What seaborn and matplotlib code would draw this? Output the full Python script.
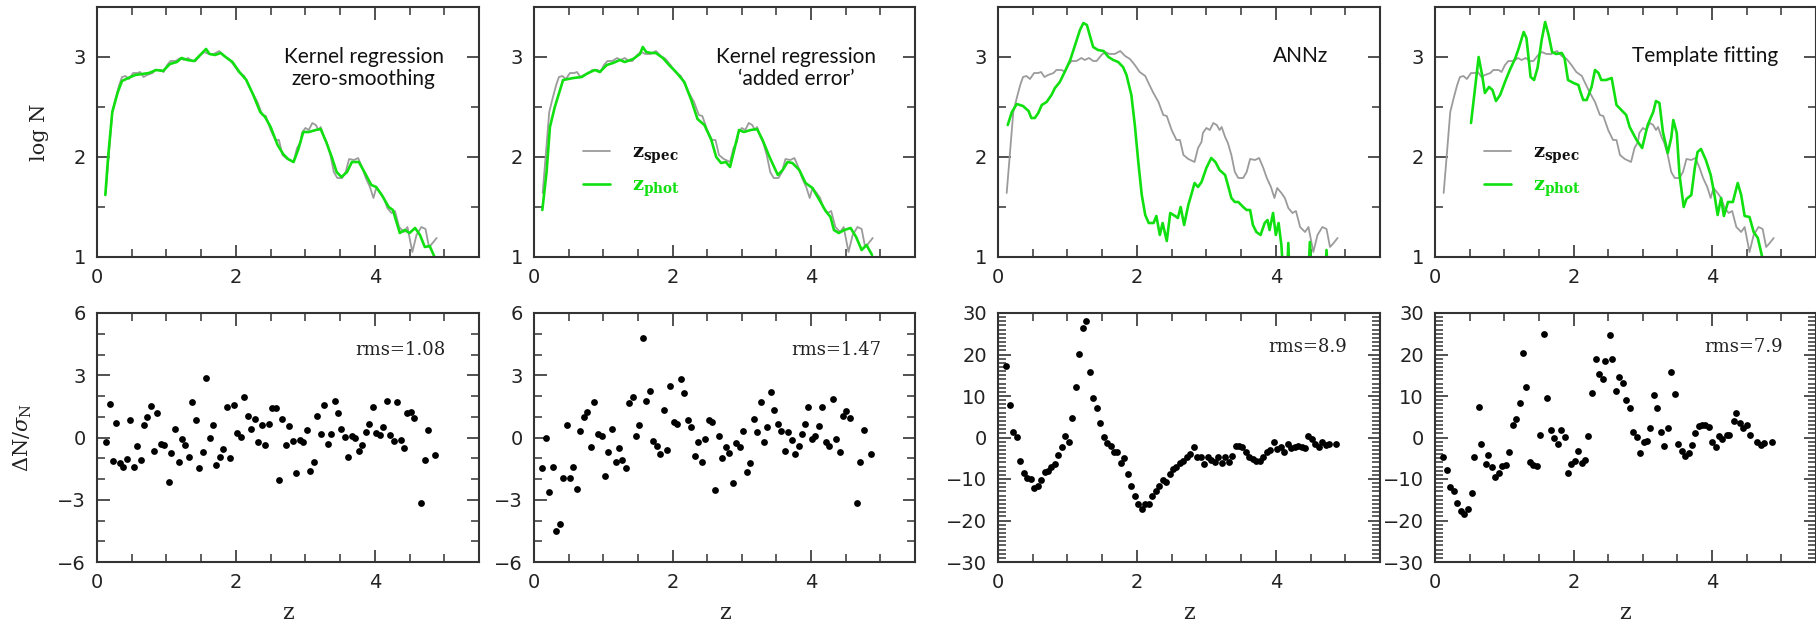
import matplotlib
matplotlib.use('Agg')
import matplotlib.pyplot as plt
from matplotlib.ticker import MultipleLocator
import numpy as np
import pandas as pd
import seaborn as sns

sns.set_style('ticks')
plt.rcParams['font.family'] = ['DejaVu Sans']
plt.rcParams['mathtext.fontset'] = 'dejavuserif'

# ---------------- top row: log N vs z ----------------
# spectroscopic distribution (same grey curve in every top panel)
z_spec = [0.125, 0.17, 0.22, 0.27, 0.32, 0.36, 0.41, 0.46, 0.52, 0.58, 0.62, 0.67, 0.72, 0.80, 0.84,
          0.92, 0.96, 1.01, 1.06, 1.13, 1.20, 1.25, 1.31, 1.37, 1.42, 1.49, 1.54, 1.61, 1.68, 1.76,
          1.83, 1.90, 1.97, 2.04, 2.12, 2.16, 2.23, 2.31, 2.38, 2.43, 2.50, 2.57, 2.62, 2.67, 2.74,
          2.83, 2.88, 2.93, 2.95, 3.00, 3.05, 3.10, 3.15, 3.19, 3.22, 3.27, 3.31, 3.36, 3.41, 3.46,
          3.53, 3.58, 3.63, 3.70, 3.76, 3.82, 3.87, 3.93, 3.98, 4.02, 4.08, 4.13, 4.18, 4.24, 4.29,
          4.35, 4.42, 4.47, 4.54, 4.60, 4.67, 4.73, 4.78, 4.82, 4.89]
logn_spec = [1.64, 2.02, 2.45, 2.59, 2.72, 2.80, 2.81, 2.78, 2.84, 2.84, 2.85, 2.80, 2.82, 2.84, 2.87,
             2.87, 2.85, 2.92, 2.96, 2.96, 2.99, 2.97, 2.99, 2.96, 2.96, 3.02, 3.05, 3.03, 3.03, 3.06,
             3.01, 2.98, 2.92, 2.85, 2.81, 2.75, 2.65, 2.55, 2.42, 2.41, 2.27, 2.17, 2.17, 2.02, 1.98,
             1.95, 2.09, 2.15, 2.24, 2.29, 2.27, 2.34, 2.32, 2.27, 2.30, 2.20, 2.14, 2.02, 1.85, 1.79,
             1.79, 1.85, 1.98, 1.97, 1.99, 1.89, 1.79, 1.70, 1.59, 1.69, 1.64, 1.59, 1.49, 1.44, 1.46,
             1.30, 1.25, 1.30, 1.05, 1.22, 1.30, 1.28, 1.10, 1.13, 1.19]

# photometric distributions
z_phot_kr0 = [0.12, 0.16, 0.22, 0.30, 0.36, 0.45, 0.55, 0.65, 0.75, 0.85, 0.95, 1.05, 1.15, 1.22, 1.30,
              1.40, 1.50, 1.57, 1.62, 1.70, 1.78, 1.87, 1.95, 2.05, 2.15, 2.25, 2.35, 2.42, 2.50, 2.60,
              2.68, 2.75, 2.83, 2.90, 2.97, 3.05, 3.15, 3.22, 3.30, 3.38, 3.45, 3.52, 3.60, 3.67, 3.77,
              3.85, 3.95, 4.02, 4.10, 4.20, 4.26, 4.36, 4.43, 4.50, 4.58, 4.65, 4.72, 4.79, 4.86]
logn_phot_kr0 = [1.62, 2.00, 2.45, 2.65, 2.76, 2.79, 2.82, 2.83, 2.84, 2.87, 2.86, 2.93, 2.95, 2.99, 2.97,
                 2.96, 3.03, 3.08, 3.03, 3.02, 3.04, 2.99, 2.95, 2.85, 2.77, 2.62, 2.45, 2.40, 2.30, 2.12,
                 2.03, 1.98, 1.95, 2.08, 2.25, 2.25, 2.27, 2.28, 2.15, 2.00, 1.85, 1.80, 1.85, 1.95, 1.95,
                 1.85, 1.72, 1.70, 1.62, 1.50, 1.47, 1.24, 1.27, 1.24, 1.29, 1.22, 1.10, 1.11, 1.00]

z_phot_kre = [0.12, 0.18, 0.23, 0.30, 0.42, 0.57, 0.69, 0.78, 0.88, 0.95, 1.05, 1.14, 1.24, 1.31, 1.43,
              1.53, 1.57, 1.62, 1.69, 1.76, 1.86, 1.95, 2.05, 2.17, 2.27, 2.36, 2.46, 2.56, 2.63, 2.70,
              2.77, 2.83, 2.89, 2.96, 3.03, 3.13, 3.22, 3.30, 3.40, 3.52, 3.59, 3.66, 3.73, 3.83, 3.92,
              4.02, 4.12, 4.21, 4.28, 4.33, 4.40, 4.48, 4.57, 4.65, 4.73, 4.80, 4.88]
logn_phot_kre = [1.47, 1.84, 2.30, 2.50, 2.77, 2.79, 2.80, 2.84, 2.87, 2.85, 2.92, 2.94, 2.97, 2.95, 2.98,
                 3.03, 3.10, 3.05, 3.04, 3.04, 2.99, 2.92, 2.85, 2.75, 2.57, 2.38, 2.32, 2.17, 2.00, 1.94,
                 1.95, 1.90, 2.07, 2.27, 2.25, 2.27, 2.28, 2.17, 2.00, 1.82, 1.87, 1.95, 1.94, 1.87, 1.74,
                 1.69, 1.57, 1.46, 1.40, 1.27, 1.24, 1.27, 1.29, 1.20, 1.07, 1.12, 1.02]

z_phot_ann = [0.14, 0.20, 0.27, 0.36, 0.44, 0.48, 0.53, 0.58, 0.63, 0.70, 0.77, 0.82, 0.89, 0.96, 1.04,
              1.11, 1.18, 1.23, 1.28, 1.32, 1.37, 1.44, 1.52, 1.59, 1.66, 1.73, 1.80, 1.85, 1.92, 1.97,
              2.02, 2.07, 2.12, 2.17, 2.24, 2.28, 2.33, 2.37, 2.43, 2.48, 2.55, 2.59, 2.63, 2.68, 2.74,
              2.79, 2.83, 2.88, 2.93, 3.00, 3.07, 3.13, 3.19, 3.27, 3.31, 3.36, 3.41, 3.46, 3.53, 3.58,
              3.63, 3.67, 3.72, 3.78, 3.84, 3.88, 3.91, 3.96, 4.00, 4.04, 4.08, 4.11, 4.15, 4.18, 4.21,
              4.30, 4.40, 4.46, 4.49, 4.52, 4.60, 4.70, 4.73, 4.76]
logn_phot_ann = [2.32, 2.45, 2.53, 2.51, 2.46, 2.39, 2.39, 2.44, 2.52, 2.55, 2.62, 2.69, 2.75, 2.85, 2.97,
                 3.12, 3.27, 3.34, 3.32, 3.22, 3.10, 3.07, 3.06, 3.00, 2.97, 2.95, 2.90, 2.82, 2.62, 2.32,
                 1.95, 1.62, 1.42, 1.34, 1.34, 1.41, 1.22, 1.34, 1.16, 1.44, 1.41, 1.39, 1.50, 1.32, 1.52,
                 1.64, 1.74, 1.70, 1.75, 1.89, 1.99, 1.95, 1.87, 1.82, 1.72, 1.59, 1.55, 1.55, 1.50, 1.47,
                 1.47, 1.32, 1.25, 1.22, 1.34, 1.37, 1.27, 1.44, 1.22, 1.34, 1.12, 0.80, 0.60, 1.14, 0.60,
                 0.50, 0.50, 0.70, 1.15, 0.70, 0.50, 0.70, 1.07, 0.70]

z_phot_tf = [0.52, 0.63, 0.68, 0.72, 0.78, 0.83, 0.88, 0.94, 1.01, 1.08, 1.16, 1.21, 1.28, 1.32, 1.38,
             1.43, 1.48, 1.54, 1.59, 1.64, 1.69, 1.75, 1.83, 1.87, 1.92, 2.00, 2.07, 2.10, 2.14, 2.19,
             2.26, 2.31, 2.36, 2.40, 2.47, 2.55, 2.62, 2.69, 2.76, 2.81, 2.91, 2.99, 3.07, 3.15, 3.19,
             3.24, 3.29, 3.36, 3.41, 3.44, 3.49, 3.53, 3.59, 3.63, 3.70, 3.75, 3.79, 3.84, 3.91, 3.98,
             4.03, 4.08, 4.13, 4.17, 4.23, 4.30, 4.37, 4.42, 4.47, 4.54, 4.60, 4.66, 4.70, 4.74]
logn_phot_tf = [2.34, 3.00, 2.82, 2.64, 2.70, 2.67, 2.56, 2.62, 2.75, 2.87, 2.99, 3.09, 3.25, 3.19, 2.80,
                2.77, 2.89, 3.17, 3.35, 3.22, 3.05, 3.03, 3.04, 2.99, 2.77, 2.74, 2.72, 2.65, 2.57, 2.57,
                2.70, 2.87, 2.84, 2.77, 2.77, 2.79, 2.52, 2.47, 2.42, 2.30, 2.17, 2.09, 2.32, 2.45, 2.56,
                2.54, 2.25, 2.04, 2.19, 2.37, 2.24, 1.82, 1.50, 1.58, 1.62, 1.89, 2.05, 2.08, 1.97, 1.82,
                1.64, 1.42, 1.59, 1.41, 1.55, 1.55, 1.74, 1.62, 1.41, 1.40, 1.25, 1.19, 1.07, 0.95]

# ---------------- bottom row: dN / sigma_N vs z ----------------
z_res_kr0 = [0.13, 0.18, 0.23, 0.28, 0.33, 0.38, 0.43, 0.48, 0.53, 0.58, 0.63, 0.68, 0.72, 0.78, 0.82,
             0.87, 0.92, 0.97, 1.03, 1.07, 1.12, 1.18, 1.22, 1.27, 1.32, 1.37, 1.42, 1.47, 1.53, 1.57,
             1.62, 1.67, 1.72, 1.77, 1.82, 1.87, 1.92, 1.97, 2.02, 2.07, 2.12, 2.17, 2.22, 2.27, 2.32,
             2.37, 2.42, 2.47, 2.52, 2.58, 2.62, 2.67, 2.72, 2.77, 2.82, 2.87, 2.92, 2.97, 3.02, 3.07,
             3.12, 3.17, 3.22, 3.27, 3.32, 3.37, 3.42, 3.47, 3.52, 3.57, 3.62, 3.67, 3.72, 3.77, 3.82,
             3.87, 3.92, 3.97, 4.02, 4.07, 4.12, 4.17, 4.22, 4.27, 4.32, 4.37, 4.42, 4.47, 4.52, 4.57,
             4.67, 4.72, 4.77, 4.87]
res_kr0 = [-0.24, 1.61, -1.12, 0.69, -1.24, -1.40, -1.04, 0.85, -1.41, -0.40, -1.08, 0.59, 1.01, 1.52, -0.67,
           1.16, -0.30, -0.37, -2.13, -0.77, 0.43, -1.17, -0.08, -0.34, -0.93, 1.73, 0.83, -1.48, -0.72, 2.87,
           0.00, 0.59, -1.32, -0.93, -0.56, 1.49, -1.01, 1.59, 0.21, 0.03, 1.93, 1.04, 0.43, 0.91, -0.24,
           0.59, -0.35, 0.64, 1.44, 1.41, -2.05, 0.88, -0.35, 0.56, -0.18, -1.72, -0.11, -0.24, 0.35, -1.61,
           -1.20, 1.04, 0.19, 1.57, -0.32, 0.16, 1.77, 1.17, 0.43, 0.03, -0.93, 0.05, -0.03, -0.64, -0.37,
           0.27, 0.67, 1.49, 0.24, 0.11, 0.50, 1.77, 0.11, -0.16, 1.72, -0.13, -0.51, 1.16, 1.24, 0.95,
           -3.16, -1.08, 0.35, -0.82]

z_res_kre = [0.12, 0.17, 0.22, 0.27, 0.32, 0.37, 0.42, 0.47, 0.52, 0.57, 0.62, 0.67, 0.72, 0.77, 0.82,
             0.87, 0.92, 0.98, 1.02, 1.07, 1.12, 1.18, 1.22, 1.27, 1.33, 1.37, 1.43, 1.47, 1.52, 1.57,
             1.62, 1.67, 1.72, 1.77, 1.82, 1.87, 1.92, 1.97, 2.02, 2.07, 2.12, 2.17, 2.22, 2.27, 2.32,
             2.37, 2.42, 2.47, 2.52, 2.57, 2.62, 2.67, 2.72, 2.77, 2.82, 2.87, 2.92, 2.97, 3.01, 3.07,
             3.12, 3.17, 3.22, 3.27, 3.32, 3.37, 3.42, 3.47, 3.52, 3.56, 3.62, 3.67, 3.72, 3.77, 3.82,
             3.87, 3.91, 3.96, 4.01, 4.06, 4.11, 4.16, 4.21, 4.26, 4.32, 4.36, 4.42, 4.46, 4.51, 4.56,
             4.66, 4.71, 4.76, 4.86]
res_kre = [-1.49, -0.03, -2.62, -1.40, -4.49, -4.17, -1.94, 0.59, -1.97, -1.44, -2.46, 0.29, 1.01, 1.24, -0.47,
           1.72, 0.16, 0.08, -1.85, -0.72, 0.40, -1.20, -0.53, -1.09, -1.49, 1.65, 1.96, 0.05, 0.61, 4.78,
           1.77, 2.22, -0.19, -0.42, -0.80, 1.32, -0.59, 2.47, 0.75, 0.67, 2.84, 2.15, 0.85, 0.53, -0.91,
           -0.24, -1.20, -0.05, 0.85, 0.75, -2.52, 0.08, -1.00, -0.48, -0.77, -2.17, -0.27, -0.48, 0.32, -1.64,
           -1.25, 0.91, 0.27, 1.69, -0.21, 0.53, 2.20, 1.33, 0.64, 0.32, -0.64, 0.27, -0.11, -0.80, -0.43,
           0.16, 0.64, 1.48, -0.05, 0.05, 0.56, 1.49, -0.24, -0.40, 1.85, -0.08, -0.72, 1.04, 1.28, 0.96,
           -3.16, -1.20, 0.37, -0.80]

z_res_ann = [0.12, 0.17, 0.22, 0.27, 0.32, 0.37, 0.42, 0.47, 0.52, 0.57, 0.62, 0.67, 0.72, 0.77, 0.82,
             0.87, 0.92, 0.97, 1.02, 1.07, 1.12, 1.17, 1.22, 1.27, 1.32, 1.37, 1.42, 1.47, 1.52, 1.57,
             1.62, 1.67, 1.72, 1.77, 1.82, 1.87, 1.92, 1.97, 2.02, 2.07, 2.12, 2.17, 2.22, 2.27, 2.32,
             2.37, 2.42, 2.47, 2.52, 2.57, 2.62, 2.67, 2.72, 2.77, 2.82, 2.87, 2.92, 2.97, 3.02, 3.07,
             3.12, 3.17, 3.22, 3.27, 3.32, 3.37, 3.42, 3.47, 3.52, 3.57, 3.62, 3.67, 3.72, 3.77, 3.82,
             3.87, 3.92, 3.97, 4.02, 4.07, 4.12, 4.17, 4.22, 4.27, 4.32, 4.37, 4.42, 4.47, 4.52, 4.57,
             4.62, 4.67, 4.72, 4.77, 4.87]
res_ann = [17.3, 7.9, 1.4, 0.2, -5.6, -8.6, -9.8, -10.1, -12.2, -11.7, -10.2, -8.2, -8.0, -7.2, -6.4,
           -4.3, -2.2, 0.4, -1.0, 4.7, 12.1, 20.2, 26.4, 28.0, 15.7, 9.5, 7.1, 3.5, 0.1, -1.4,
           -2.0, -3.4, -3.5, -6.2, -5.0, -8.8, -11.6, -14.1, -16.0, -17.3, -16.0, -16.0, -14.1, -12.8, -11.7,
           -10.2, -10.8, -8.8, -7.6, -7.0, -6.2, -5.6, -4.8, -4.0, -2.3, -4.6, -4.7, -6.4, -4.6, -5.4,
           -5.8, -4.7, -6.2, -4.6, -6.0, -4.4, -2.0, -2.0, -2.3, -3.4, -4.6, -5.2, -5.6, -5.6, -4.6,
           -3.6, -3.1, -1.1, -2.8, -2.2, -3.6, -1.5, -2.6, -2.2, -2.0, -2.3, -2.6, 0.4, -0.4, -1.5,
           -2.2, -1.2, -1.8, -1.5, -1.5]

z_res_tf = [0.12, 0.18, 0.22, 0.28, 0.32, 0.38, 0.42, 0.47, 0.53, 0.57, 0.63, 0.67, 0.73, 0.77, 0.83,
            0.87, 0.92, 0.97, 1.02, 1.07, 1.12, 1.17, 1.22, 1.27, 1.32, 1.37, 1.42, 1.47, 1.52, 1.57,
            1.62, 1.67, 1.72, 1.77, 1.82, 1.87, 1.92, 1.97, 2.02, 2.07, 2.12, 2.17, 2.21, 2.27, 2.32,
            2.37, 2.42, 2.46, 2.52, 2.56, 2.62, 2.66, 2.71, 2.76, 2.81, 2.86, 2.91, 2.96, 3.01, 3.06,
            3.11, 3.16, 3.21, 3.26, 3.31, 3.36, 3.41, 3.46, 3.51, 3.56, 3.61, 3.66, 3.71, 3.76, 3.81,
            3.86, 3.90, 3.96, 4.00, 4.06, 4.10, 4.15, 4.21, 4.25, 4.31, 4.35, 4.41, 4.45, 4.51, 4.55,
            4.65, 4.70, 4.75, 4.86]
res_tf = [-4.6, -7.8, -12.0, -12.9, -15.9, -17.7, -18.4, -17.3, -13.3, -4.6, 7.4, -1.5, -6.4, -4.3, -7.0,
          -9.5, -8.6, -6.8, -6.6, -3.6, 3.1, 4.4, 8.2, 20.3, 12.2, -5.8, -6.6, -6.8, 0.5, 24.9,
          9.4, 1.9, -0.2, -1.5, 1.7, 0.1, -8.5, -6.4, -5.6, -3.2, -6.1, -5.4, 0.4, 10.8, 18.8,
          15.4, 14.0, 18.4, 24.7, 18.8, 11.3, 14.6, 13.2, 9.0, 7.1, 1.3, 0.2, -3.8, -1.1, -0.8,
          2.3, 10.2, 7.1, 1.3, -2.0, 2.3, 15.8, 10.6, -1.5, -3.2, -4.4, -3.8, -1.9, 1.1, 2.8,
          3.1, 3.1, 2.5, -1.2, -2.2, 0.4, -0.4, 0.6, 0.6, 3.9, 5.9, 3.5, 2.3, 3.1, 0.6,
          -1.0, -1.8, -1.4, -1.1]

methods = ['Kernel regression\nzero-smoothing', 'Kernel regression\n\u2018added error\u2019', 'ANNz', 'Template fitting']
rms_labels = ['rms=1.08', 'rms=1.47', 'rms=8.9', 'rms=7.9']
phot_z = [z_phot_kr0, z_phot_kre, z_phot_ann, z_phot_tf]
phot_logn = [logn_phot_kr0, logn_phot_kre, logn_phot_ann, logn_phot_tf]
res_z = [z_res_kr0, z_res_kre, z_res_ann, z_res_tf]
res_v = [res_kr0, res_kre, res_ann, res_tf]

GREY = '#9b9b9b'
GREEN = '#10e010'
INK = '#333333'

W, H = 1816, 624
fig = plt.figure(figsize=(W / 100, H / 100), dpi=100)
lefts = [97, 534, 998, 1435]
widths = [382, 381, 382, 381]


def style(ax, ymaj, ymin):
    ax.set_xlim(0, 5.5)
    ax.xaxis.set_major_locator(MultipleLocator(2))
    ax.xaxis.set_minor_locator(MultipleLocator(0.5))
    ax.yaxis.set_major_locator(MultipleLocator(ymaj))
    ax.yaxis.set_minor_locator(MultipleLocator(ymin))
    ax.tick_params(which='both', direction='in', top=True, right=True, color=INK,
                   labelcolor='#222222', labelsize=14)
    ax.tick_params(which='major', length=9, width=1.2, pad=8)
    ax.tick_params(which='minor', length=5.5, width=1.1)
    for sp in ax.spines.values():
        sp.set_linewidth(1.5)
        sp.set_color(INK)
    ax.set_xlabel('')
    ax.set_ylabel('')


for i in range(4):
    # ---- top panel ----
    ax = fig.add_axes([lefts[i] / W, 1 - 257 / H, widths[i] / W, 250 / H])
    show_leg = i in (1, 3)
    sns.lineplot(x=z_spec, y=logn_spec, ax=ax, color=GREY, lw=1.3, estimator=None, sort=False,
                 label=r'$\mathbf{z_{spec}}$' if show_leg else None)
    sns.lineplot(x=phot_z[i], y=phot_logn[i], ax=ax, color=GREEN, lw=1.9, estimator=None, sort=False,
                 label=r'$\mathbf{z_{phot}}$' if show_leg else None)
    ax.set_ylim(1, 3.5)
    style(ax, 1, 0.5)
    if show_leg:
        leg = ax.legend(loc='upper left', bbox_to_anchor=(0.129, 0.455), frameon=False, fontsize=14,
                        borderpad=0, borderaxespad=0, handlelength=1.4, handletextpad=1.1,
                        labelspacing=0.5)
        leg.get_texts()[0].set_color('#111111')
        leg.get_texts()[1].set_color(GREEN)
    elif ax.get_legend() is not None:
        ax.get_legend().remove()
    tx = [3.84, 3.78, 4.35, 3.9][i]
    ty = [2.89, 2.89, 3.01, 3.01][i]
    ax.text(tx, ty, methods[i], ha='center', va='center', fontsize=15, family='Lato',
            linespacing=1.15, color='#111111')
    if i == 0:
        ax.set_ylabel('log N', family='DejaVu Serif', fontsize=15, color='#222222')
        ax.yaxis.set_label_coords(-0.126, 0.5)

    # ---- bottom panel ----
    bx = fig.add_axes([lefts[i] / W, 1 - 562 / H, widths[i] / W, 249 / H])
    sns.scatterplot(x=res_z[i], y=res_v[i], ax=bx, color='black', s=24, linewidth=0)
    if i < 2:
        bx.set_ylim(-6, 6)
        style(bx, 3, 1)
        ry = 4.2
    else:
        bx.set_ylim(-30, 30)
        style(bx, 10, 1)
        ry = 21.9
    bx.text(5.02, ry, rms_labels[i], ha='right', va='center', fontsize=13, family='DejaVu Serif',
            color='#222222')
    bx.set_xlabel('z', family='DejaVu Serif', fontsize=16, color='#222222')
    bx.xaxis.set_label_coords(0.5, -0.16)
    if i == 0:
        bx.set_ylabel(r'$\Delta\mathrm{N}/\sigma_\mathrm{N}$', fontsize=15, color='#222222')
        bx.yaxis.set_label_coords(-0.165, 0.5)

fig.savefig('out.png', dpi=100)
